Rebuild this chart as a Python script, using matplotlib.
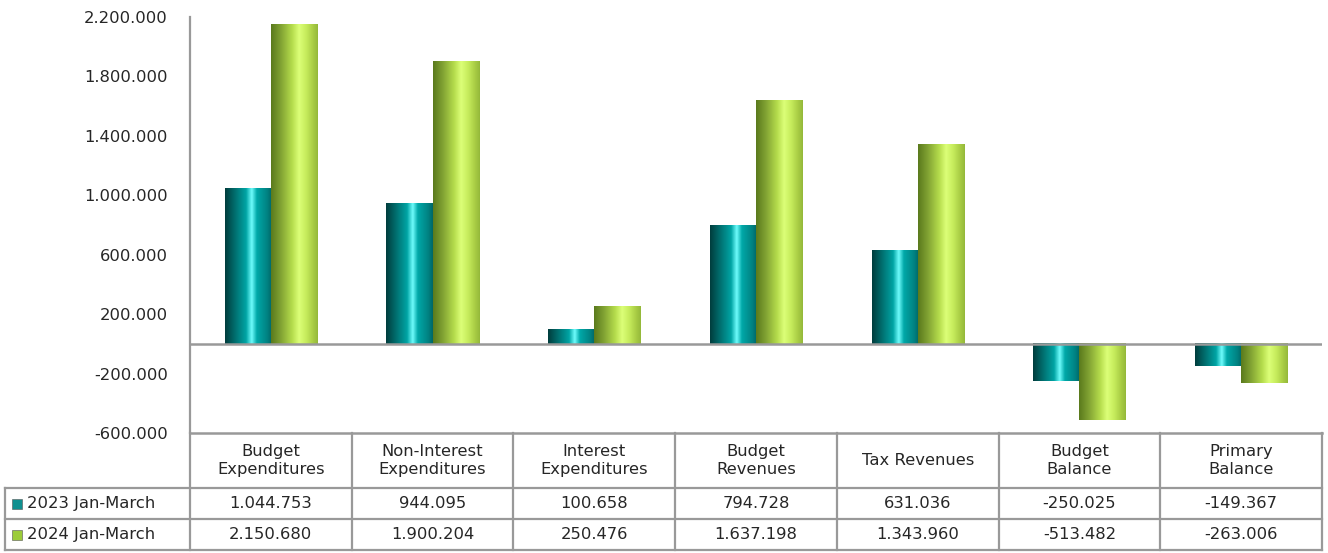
import matplotlib
matplotlib.use('Agg')
import matplotlib.pyplot as plt
import numpy as np
from matplotlib.colors import LinearSegmentedColormap
from matplotlib.patches import Rectangle

plt.rcParams['font.family'] = ['DejaVu Sans']

categories = ['Budget\nExpenditures', 'Non-Interest\nExpenditures', 'Interest\nExpenditures',
              'Budget\nRevenues', 'Tax Revenues', 'Budget\nBalance', 'Primary\nBalance']
series_names = ['2023 Jan-March', '2024 Jan-March']
values_2023 = [1044753, 944095, 100658, 794728, 631036, -250025, -149367]
values_2024 = [2150680, 1900204, 250476, 1637198, 1343960, -513482, -263006]
yticks = [-600000, -200000, 200000, 600000, 1000000, 1400000, 1800000, 2200000]


def fmt(v):
    s = f"{abs(v):,}".replace(',', '.')
    return '-' + s if v < 0 else s


teal = LinearSegmentedColormap.from_list('teal', [
    (0.0, '#003c3c'), (0.2, '#006b6b'), (0.45, '#00a5a5'),
    (0.57, '#6ffcfc'), (0.68, '#00a8a8'), (0.9, '#008282'), (1.0, '#006666')])
green = LinearSegmentedColormap.from_list('green', [
    (0.0, '#5a7a1c'), (0.2, '#7fa032'), (0.45, '#b5dc4c'),
    (0.6, '#dcff78'), (0.75, '#c6ec5c'), (0.9, '#a8cc44'), (1.0, '#94b83a')])
marker_colors = ['#109090', '#9ccc3a']
grad = np.linspace(0, 1, 256).reshape(1, -1)

W, H = 1328, 553
fs = 11.8
txt = '#262626'
fig = plt.figure(figsize=(W / 100, H / 100), dpi=100)
ax_l, ax_r, ax_t, ax_b = 190, 1322, 17, 433
ax = fig.add_axes([ax_l / W, 1 - ax_b / H, (ax_r - ax_l) / W, (ax_b - ax_t) / H])

x = np.arange(len(categories))
bw = 0.285
bars1 = ax.bar(x - bw / 2, values_2023, bw, facecolor='none', edgecolor='none')
bars2 = ax.bar(x + bw / 2, values_2024, bw, facecolor='none', edgecolor='none')
for bars, cmap in [(bars1, teal), (bars2, green)]:
    for r in bars:
        x0, y0 = r.get_x(), r.get_y()
        w, h = r.get_width(), r.get_height()
        ax.imshow(grad, cmap=cmap, extent=[x0, x0 + w, y0, y0 + h],
                  aspect='auto', zorder=2, interpolation='bilinear')

ax.set_xlim(-0.5, len(categories) - 0.5)
ax.set_ylim(-600000, 2200000)
ax.set_yticks(yticks)
ax.set_yticklabels([fmt(v) for v in yticks], fontsize=fs, color=txt)
ax.tick_params(axis='y', length=0, pad=16)
ax.set_xticks([])
for s in ['top', 'right', 'bottom']:
    ax.spines[s].set_visible(False)
ax.spines['left'].set_color('#999999')
ax.spines['left'].set_linewidth(1.6)
ax.axhline(0, color='#999999', lw=1.8, zorder=3)

# data table below the plot
tab = fig.add_axes([ax_l / W, 1 - 550 / H, (ax_r - ax_l) / W, (550 - ax_b) / H])
tab.axis('off')
lc = '#999999'
row_y = [1.0, 62 / 117, 31 / 117, 0.0]
col_px = (ax_r - ax_l) / len(categories)
left_edge = -0.5 - (ax_l - 5) / col_px
for xe in np.arange(-0.5, len(categories), 1.0):
    tab.plot([xe, xe], [0, 1], color=lc, lw=1.6, clip_on=False)
tab.plot([-0.5, len(categories) - 0.5], [1, 1], color=lc, lw=1.8, clip_on=False)
for yy in row_y[1:]:
    tab.plot([left_edge, len(categories) - 0.5], [yy, yy], color=lc, lw=1.6, clip_on=False)
tab.plot([left_edge, left_edge], [0, row_y[1]], color=lc, lw=1.6, clip_on=False)

for i, c in enumerate(categories):
    tab.text(i, (row_y[0] + row_y[1]) / 2, c, ha='center', va='center',
             fontsize=fs, color=txt, linespacing=1.2)
for j, (vals, name, mc) in enumerate([(values_2023, series_names[0], marker_colors[0]),
                                       (values_2024, series_names[1], marker_colors[1])]):
    yc = (row_y[j + 1] + row_y[j + 2]) / 2
    for i, v in enumerate(vals):
        tab.text(i, yc, fmt(v), ha='center', va='center', fontsize=fs, color=txt)
    tab.text(left_edge + 22 / col_px, yc, name, ha='left', va='center', fontsize=fs,
             color=txt, clip_on=False)
    mx = left_edge + 7 / col_px
    tab.add_patch(Rectangle((mx, yc - 5 / 117), 10 / col_px, 10 / 117, facecolor=mc,
                            edgecolor='#555555', lw=0.4, clip_on=False, zorder=3))
tab.set_xlim(-0.5, len(categories) - 0.5)
tab.set_ylim(0, 1)

fig.savefig('out.png', dpi=100)
